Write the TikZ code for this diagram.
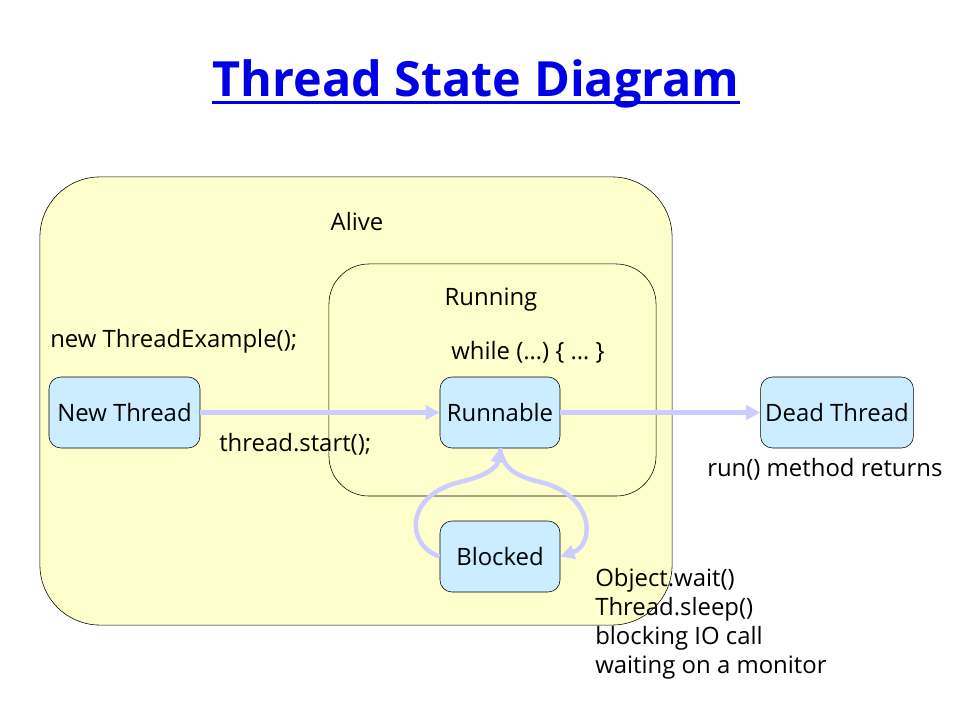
\documentclass[tikz,border=0pt]{standalone}
\usepackage{fontspec}
\setmainfont{Open Sans}
\usetikzlibrary{arrows.meta}
\definecolor{alivefill}{RGB}{255,255,204}
\definecolor{statefill}{RGB}{204,236,255}
\definecolor{flowcol}{RGB}{204,204,255}
\definecolor{titleblue}{RGB}{0,0,230}

\tikzset{
  state/.style={draw, rounded corners=0.3cm, fill=statefill, minimum width=3cm,
    minimum height=1.775cm, font=\fontsize{17}{20}\selectfont},
  region/.style={draw, fill=alivefill},
  flow/.style={draw=flowcol, line width=3.2pt, -{Triangle[length=10pt,width=10pt]}},
  note/.style={font=\fontsize{17}{20.6}\selectfont, inner sep=0pt},
}

\begin{document}
\begin{tikzpicture}[x=0.025cm, y=-0.025cm]
    \useasboundingbox (0,0) rectangle (960,720);

    % title
    \node[inner sep=0pt, anchor=base, text=titleblue, font=\fontsize{34.5}{38}\selectfont\bfseries] (title) at (476,97) {Thread State Diagram};
    \draw[titleblue, line width=2pt] ([yshift=-4pt]title.base west) -- ([yshift=-4pt]title.base east);

    % regions
    \node[region, rounded corners=1.5cm, minimum width=15.8cm, minimum height=11.2cm] (alive) at (356,401) {};
    \node[region, rounded corners=1cm, minimum width=8.175cm, minimum height=5.8cm] (running) at (492.5,380) {};

    \node[note] (alivelbl) at (357,222) {Alive};
    \node[note] (runninglbl) at (491,300) {Running};
    \node[note, anchor=west] (loop) at (451,352) {while (…) \{ … \}};
    \node[note, anchor=west] (create) at (50,341) {new ThreadExample();};
    \node[note, anchor=west] (start) at (219,444) {thread.start();};
    \node[note, anchor=west] (returns) at (707,469) {run() method returns};
    \node[note, anchor=north west, align=left] (causes) at (595,568) {Object.wait()\\Thread.sleep()\\blocking IO call\\waiting on a monitor};

    % states
    \node[state, minimum width=3.775cm] (new) at (124.5,412.5) {New Thread};
    \node[state] (runnable) at (500,412.5) {Runnable};
    \node[state, minimum width=3.75cm] (dead) at (837,412.5) {Dead Thread};
    \node[state] (blocked) at (500,556.5) {Blocked};

    % transitions
    \draw[flow] (new) -- (runnable);
    \draw[flow] (runnable) -- (dead);
    \draw[flow] (blocked.west) .. controls (405,545) and (405,495) .. (460,482)
        .. controls (485,476) and (497,468) .. (runnable.south);
    \draw[flow] (runnable.south) .. controls (503,468) and (515,476) .. (540,482)
        .. controls (595,495) and (595,545) .. (blocked.east);
\end{tikzpicture}
\end{document}
